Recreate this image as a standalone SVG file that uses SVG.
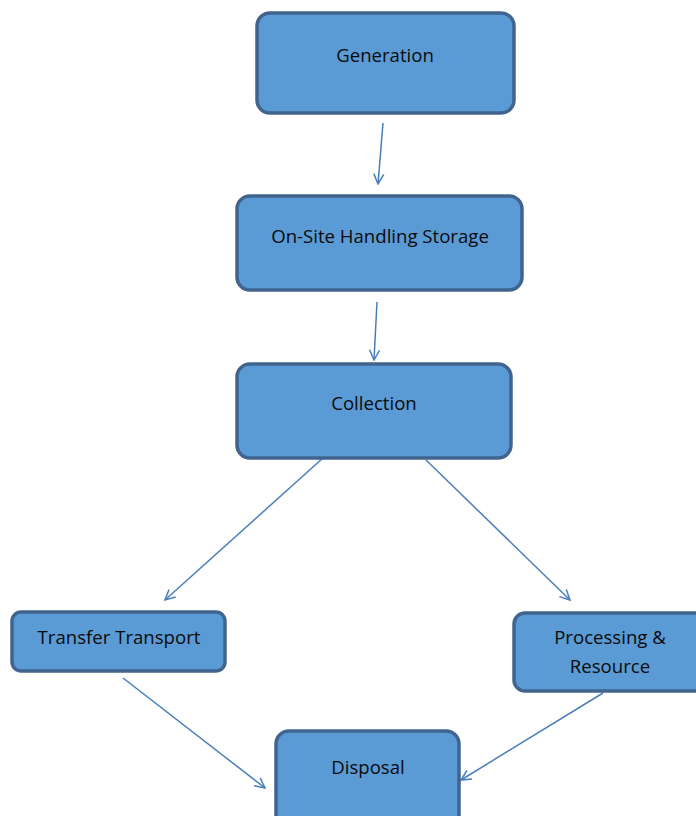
<svg xmlns="http://www.w3.org/2000/svg" width="696" height="816" viewBox="0 0 696 816">
<style>
.box{fill:#5b9bd5;stroke:#41648f;stroke-width:3.5}
.lbl{font-family:"Open Sans","Liberation Sans",sans-serif;font-size:18.6px;fill:#0a0a0a;text-anchor:middle}
.conn{stroke:#4a7ebb;stroke-width:1.5;fill:none;marker-end:url(#ah)}
</style>
<defs>
<marker id="ah" viewBox="0 0 12 12" refX="11" refY="6" markerWidth="12" markerHeight="12" markerUnits="userSpaceOnUse" orient="auto">
<path d="M1,1 L11,6 L1,11" fill="none" stroke="#4a7ebb" stroke-width="1.5"/>
</marker>
</defs>
<rect width="696" height="816" fill="#fff"/>
<g id="connectors">
<line class="conn" x1="383" y1="123" x2="378" y2="184"/>
<line class="conn" x1="377" y1="302" x2="374" y2="360"/>
<line class="conn" x1="323" y1="458" x2="165" y2="600"/>
<line class="conn" x1="426" y1="460" x2="570" y2="600"/>
<line class="conn" x1="123" y1="678" x2="265" y2="788"/>
<line class="conn" x1="603" y1="693" x2="461" y2="780"/>
</g>
<g id="generation">
<rect class="box" x="257" y="13" width="257" height="100" rx="13"/>
<text class="lbl" x="385" y="62">Generation</text>
</g>
<g id="onsite">
<rect class="box" x="237" y="196" width="285" height="94" rx="13"/>
<text class="lbl" x="380" y="243">On-Site Handling Storage</text>
</g>
<g id="collection">
<rect class="box" x="237" y="364" width="274" height="94" rx="13"/>
<text class="lbl" x="374" y="410">Collection</text>
</g>
<g id="transfer">
<rect class="box" x="12" y="612" width="213" height="59" rx="9"/>
<text class="lbl" x="119" y="644">Transfer Transport</text>
</g>
<g id="processing">
<rect class="box" x="514" y="613" width="200" height="78" rx="11"/>
<text class="lbl" x="610" y="644">Processing &amp;</text>
<text class="lbl" x="610" y="673">Resource</text>
</g>
<g id="disposal">
<rect class="box" x="276" y="731" width="183" height="100" rx="13"/>
<text class="lbl" x="368" y="774">Disposal</text>
</g>
</svg>
